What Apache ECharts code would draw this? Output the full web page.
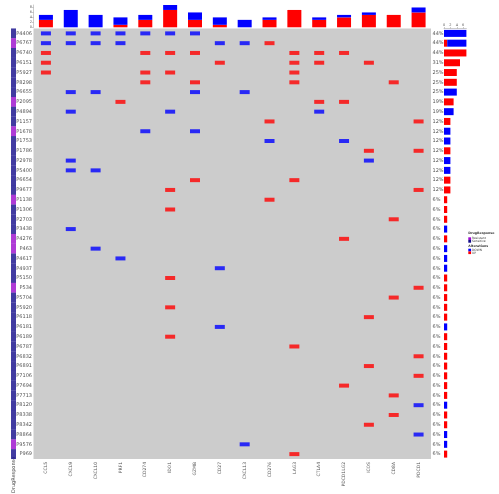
<!DOCTYPE html>
<html><head><meta charset="utf-8">
<script src="https://cdn.jsdelivr.net/npm/echarts@6/dist/echarts.min.js"></script>
<style>html,body{margin:0;padding:0;background:#fff}#c{width:499px;height:494px}</style>
</head><body><div id="c"></div>
<script>
const genes = ['CCL5','CXCL9','CXCL10','PRF1','CD274','IDO1','GZMB','CD27','CXCL13','CD276','LAG3','CTLA4','PDCD1LG2','ICOS','CD8A','PDCD1'];
const patients = ['P4406','P6767','P6740','P6151','P5927','P8298','P6655','P2095','P4894','P1157','P1678',
  'P1753','P1786','P2978','P5400','P6654','P9677','P1138','P1306','P2703','P3438','P4276','P463','P4617',
  'P4937','P5150','P534','P5704','P5920','P6118','P6181','P6189','P6787','P6832','P6891','P7106','P7694',
  'P7713','P8120','P8338','P8342','P8864','P9576','P969'];
// R = Resistant, S = Sensitive
const response = ['S','R','S','S','S','S','S','R','S','S','R',
  'S','S','S','S','S','S','R','S','S','S','R','R','S',
  'S','S','R','S','S','S','S','S','S','S','S','S','S',
  'S','S','S','S','S','R','S'];
// per patient, one char per gene: D = DOWN, U = UP, . = none
const alterations = [
  'DDDDDDD.........','DDDD...DDU......','U...UUU...UUU...','U......U..UU.U..','U...UU....U.....',
  '....U.U...U...U.','.DD...D.D.......','...U.......UU...','.D...D.....D....','.........U.....U',
  '....D.D.........','.........D..D...','.............U.U','.D...........D..','.DD.............',
  '......U...U.....','.....U.........U','.........U......','.....U..........','..............U.',
  '.D..............','............U...','..D.............','...D............','.......D........',
  '.....U..........','...............U','..............U.','.....U..........','.............U..',
  '.......D........','.....U..........','..........U.....','...............U','.............U..',
  '...............U','............U...','..............U.','...............D','..............U.',
  '.............U..','...............D','........D.......','..........U.....'];
const topTicks = [0, 2, 4, 6, 8];
const sideTicks = [0, 2, 4, 6];

const RED = '#ff0000', BLUE = '#0000ff', PURPLE = '#9a0acc', NAVY = '#120a8a';
const upCells = [], downCells = [];
const colUp = genes.map(() => 0), colDown = genes.map(() => 0);
const rowUp = [], rowDown = [];
alterations.forEach((s, i) => {
  let u = 0, d = 0;
  for (let j = 0; j < s.length; j++) {
    if (s[j] === 'U') { upCells.push([j, i]); colUp[j]++; u++; }
    if (s[j] === 'D') { downCells.push([j, i]); colDown[j]++; d++; }
  }
  rowUp.push(u); rowDown.push(d);
});
function roundEven(x) {
  const f = Math.floor(x), r = x - f;
  if (Math.abs(r - 0.5) < 1e-9) return f % 2 === 0 ? f : f + 1;
  return Math.round(x);
}
const pctLabels = patients.map((p, i) => roundEven((rowUp[i] + rowDown[i]) / genes.length * 100) + '%');
const stripData = response.map((r, i) => ({ value: [0, i], itemStyle: { color: r === 'R' ? PURPLE : NAVY } }));

const G = { left: 33.5, top: 28.5, width: 397.5, height: 430.5 };
const tiny = { fontSize: 3.5, color: '#555', fontFamily: 'DejaVu Sans' };
const chart = echarts.init(document.getElementById('c'), null, { renderer: 'canvas' });
chart.setOption({
  animation: false,
  backgroundColor: '#fff',
  grid: [
    { left: G.left, top: G.top, width: G.width, height: G.height, show: true, backgroundColor: '#cccccc', borderWidth: 0 },
    { left: G.left, top: 5, width: G.width, height: 22.3 },
    { left: 11, top: G.top, width: 5, height: G.height },
    { left: 444, top: G.top, width: 22.4, height: G.height }
  ],
  xAxis: [
    { gridIndex: 0, type: 'category', data: genes, position: 'bottom',
      axisLine: { show: false }, axisTick: { show: false }, splitLine: { show: false },
      axisLabel: { rotate: 90, fontSize: 4.5, color: '#555', margin: 3, fontFamily: 'DejaVu Sans' } },
    { gridIndex: 1, type: 'category', data: genes, show: false },
    { gridIndex: 2, type: 'category', data: ['DrugResponse'], show: false },
    { gridIndex: 3, type: 'value', min: 0, max: 7, interval: 2, position: 'top',
      axisLine: { show: true, lineStyle: { color: '#999', width: 0.5 } },
      axisTick: { show: true, length: 1.5, lineStyle: { color: '#999', width: 0.5 } },
      splitLine: { show: false },
      axisLabel: Object.assign({ margin: 1.5, showMaxLabel: false }, tiny) }
  ],
  yAxis: [
    { gridIndex: 0, type: 'category', data: patients, inverse: true, position: 'left',
      axisLine: { show: false }, axisTick: { show: false }, splitLine: { show: false },
      axisLabel: { fontSize: 5, color: '#555', margin: 1.5, fontFamily: 'DejaVu Sans' } },
    { gridIndex: 0, type: 'category', data: pctLabels, inverse: true, position: 'right',
      axisLine: { show: false }, axisTick: { show: false }, splitLine: { show: false },
      axisLabel: { fontSize: 5, color: '#555', margin: 1.5, fontFamily: 'DejaVu Sans' } },
    { gridIndex: 1, type: 'value', min: 0, max: 9, interval: 2,
      axisLine: { show: true, lineStyle: { color: '#999', width: 0.5 } },
      axisTick: { show: true, length: 1.5, lineStyle: { color: '#999', width: 0.5 } },
      splitLine: { show: false },
      axisLabel: Object.assign({ margin: 1.5, showMaxLabel: false }, tiny) },
    { gridIndex: 2, type: 'category', data: patients, inverse: true, show: false },
    { gridIndex: 3, type: 'category', data: patients, inverse: true, show: false }
  ],
  series: [
    { type: 'scatter', xAxisIndex: 0, yAxisIndex: 0, symbol: 'rect', symbolSize: [10, 4],
      itemStyle: { color: RED }, data: upCells, silent: true },
    { type: 'scatter', xAxisIndex: 0, yAxisIndex: 0, symbol: 'rect', symbolSize: [10, 4],
      itemStyle: { color: BLUE }, data: downCells, silent: true },
    { type: 'bar', xAxisIndex: 1, yAxisIndex: 2, stack: 'col', barWidth: 14,
      itemStyle: { color: RED }, data: colUp },
    { type: 'bar', xAxisIndex: 1, yAxisIndex: 2, stack: 'col', barWidth: 14,
      itemStyle: { color: BLUE }, data: colDown },
    { type: 'scatter', xAxisIndex: 2, yAxisIndex: 3, symbol: 'rect', symbolSize: [5, 9.9],
      data: stripData },
    { type: 'bar', xAxisIndex: 3, yAxisIndex: 4, stack: 'row', barWidth: 7,
      itemStyle: { color: RED }, data: rowUp },
    { type: 'bar', xAxisIndex: 3, yAxisIndex: 4, stack: 'row', barWidth: 7,
      itemStyle: { color: BLUE }, data: rowDown }
  ],
  graphic: [
    { type: 'text', x: 468.3, y: 232, style: { text: 'DrugResponse', fontSize: 3.2, fontWeight: 'bold', fill: '#333', fontFamily: 'DejaVu Sans' } },
    { type: 'rect', shape: { x: 468.3, y: 237.3, width: 2.8, height: 2.7 }, style: { fill: PURPLE } },
    { type: 'text', x: 472, y: 237.2, style: { text: 'Resistant', fontSize: 3, fill: '#444', fontFamily: 'DejaVu Sans' } },
    { type: 'rect', shape: { x: 468.3, y: 240, width: 2.8, height: 2.7 }, style: { fill: NAVY } },
    { type: 'text', x: 472, y: 239.9, style: { text: 'Sensitive', fontSize: 3, fill: '#444', fontFamily: 'DejaVu Sans' } },
    { type: 'text', x: 468.3, y: 244.5, style: { text: 'Alterations', fontSize: 3.2, fontWeight: 'bold', fill: '#333', fontFamily: 'DejaVu Sans' } },
    { type: 'rect', shape: { x: 468.3, y: 248.7, width: 2.8, height: 2.7 }, style: { fill: BLUE } },
    { type: 'text', x: 472, y: 248.6, style: { text: 'DOWN', fontSize: 3, fill: '#444', fontFamily: 'DejaVu Sans' } },
    { type: 'rect', shape: { x: 468.3, y: 251.4, width: 2.8, height: 2.7 }, style: { fill: RED } },
    { type: 'text', x: 472, y: 251.3, style: { text: 'UP', fontSize: 3, fill: '#444', fontFamily: 'DejaVu Sans' } },
    { type: 'text', x: 11, y: 493, rotation: Math.PI / 2,
      style: { text: 'DrugResponse', fontSize: 5, fill: '#444', fontFamily: 'DejaVu Sans', textAlign: 'left', textVerticalAlign: 'top' } }
  ]
});
</script></body></html>
